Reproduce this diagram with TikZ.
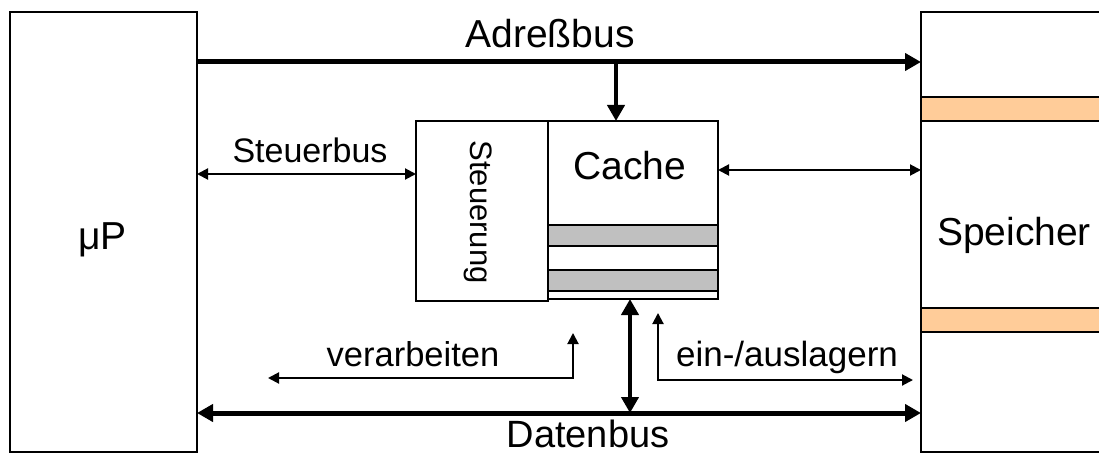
\documentclass[tikz,border=0pt]{standalone}
\usepackage{fontspec}
\setmainfont{Liberation Sans}
\usetikzlibrary{arrows.meta}
\definecolor{bandorange}{HTML}{FFCC99}
\definecolor{bandgray}{HTML}{C0C0C0}
\begin{document}
\begin{tikzpicture}[x=1pt,y=-1pt,
  box/.style={draw,line width=1.3pt,inner sep=0pt,outer sep=0pt},
  lab/.style={font=\fontsize{34.5}{40}\selectfont,inner sep=0pt,anchor=base},
  big/.style={font=\fontsize{39}{44}\selectfont,inner sep=0pt,anchor=base},
  bus/.style={line width=5pt},
  busarr/.style={line width=4.5pt},
  thinarr/.style={line width=2pt},
  TT/.tip={Triangle[length=16pt,width=17pt]},
  tt/.tip={Triangle[length=11pt,width=11pt]},
]
\useasboundingbox (0,0) rectangle (1099,454);

% processor
\node[box, minimum width=187pt, minimum height=440pt] (mp) at (103.5,232) {};
\node[big] (mptxt) at (102.5,249) {μP};

% memory
\node[box, minimum width=181pt, minimum height=440pt] (sp) at (1011.5,232) {};
\draw[box, fill=bandorange] (921,97) rectangle (1102,121);
\draw[box, fill=bandorange] (921,308) rectangle (1102,332);
\node[big] (sptxt) at (1014,246) {Speicher};

% cache unit
\node[box, line width=2pt, minimum width=132pt, minimum height=180pt] (steu) at (482,211) {};
\node[font=\fontsize{31}{36}\selectfont, rotate=-90, anchor=base, inner sep=0pt] (steutxt) at (470,212) {Steuerung};
\node[box, line width=1.5pt, minimum width=170pt, minimum height=178pt] (cache) at (633,210) {};
\draw[line width=1.5pt, fill=bandgray] (548,225) rectangle (718,246);
\draw[line width=1.5pt, fill=bandgray] (548,270) rectangle (718,291);
\node[big] (cachetxt) at (630,180) {Cache};

% address bus
\coordinate (a) at (0,62);
\draw[bus,-TT] (mp.east |- a) -- (sp.west |- a);
\node[big] (adrtxt) at (550,48) {Adreßbus};
\coordinate (tap) at (616,62);
\draw[busarr,-TT] (tap) -- (tap |- cache.north);

% control bus
\coordinate (s) at (0,174);
\draw[thinarr,tt-tt] (mp.east |- s) -- (steu.west |- s);
\node[lab, font=\fontsize{34}{40}\selectfont] (steubustxt) at (310,163) {Steuerbus};
\coordinate (r) at (0,170);
\draw[thinarr,tt-tt] (cache.east |- r) -- (sp.west |- r);

% data bus
\coordinate (dv) at (630,0);
\coordinate (d) at (0,413);
\draw[busarr,TT-TT] (cache.south -| dv) -- (dv |- d);
\draw[bus,TT-TT] (mp.east |- d) -- (sp.west |- d);
\node[big, font=\fontsize{38}{44}\selectfont] (datentxt) at (588,447) {Datenbus};

% verarbeiten
\coordinate (v1) at (573,333);
\coordinate (v2) at (573,378);
\coordinate (v3) at (268,378);
\draw[thinarr,tt-tt] (v1) -- (v2) -- (v3);
\node[lab] (vtxt) at (413,366) {verarbeiten};

% ein-/auslagern
\coordinate (e1) at (658,313);
\coordinate (e2) at (658,380);
\coordinate (e3) at (913,380);
\draw[thinarr,tt-tt] (e1) -- (e2) -- (e3);
\node[lab, font=\fontsize{35}{40}\selectfont] (etxt) at (787,366) {ein-/auslagern};
\end{tikzpicture}
\end{document}
